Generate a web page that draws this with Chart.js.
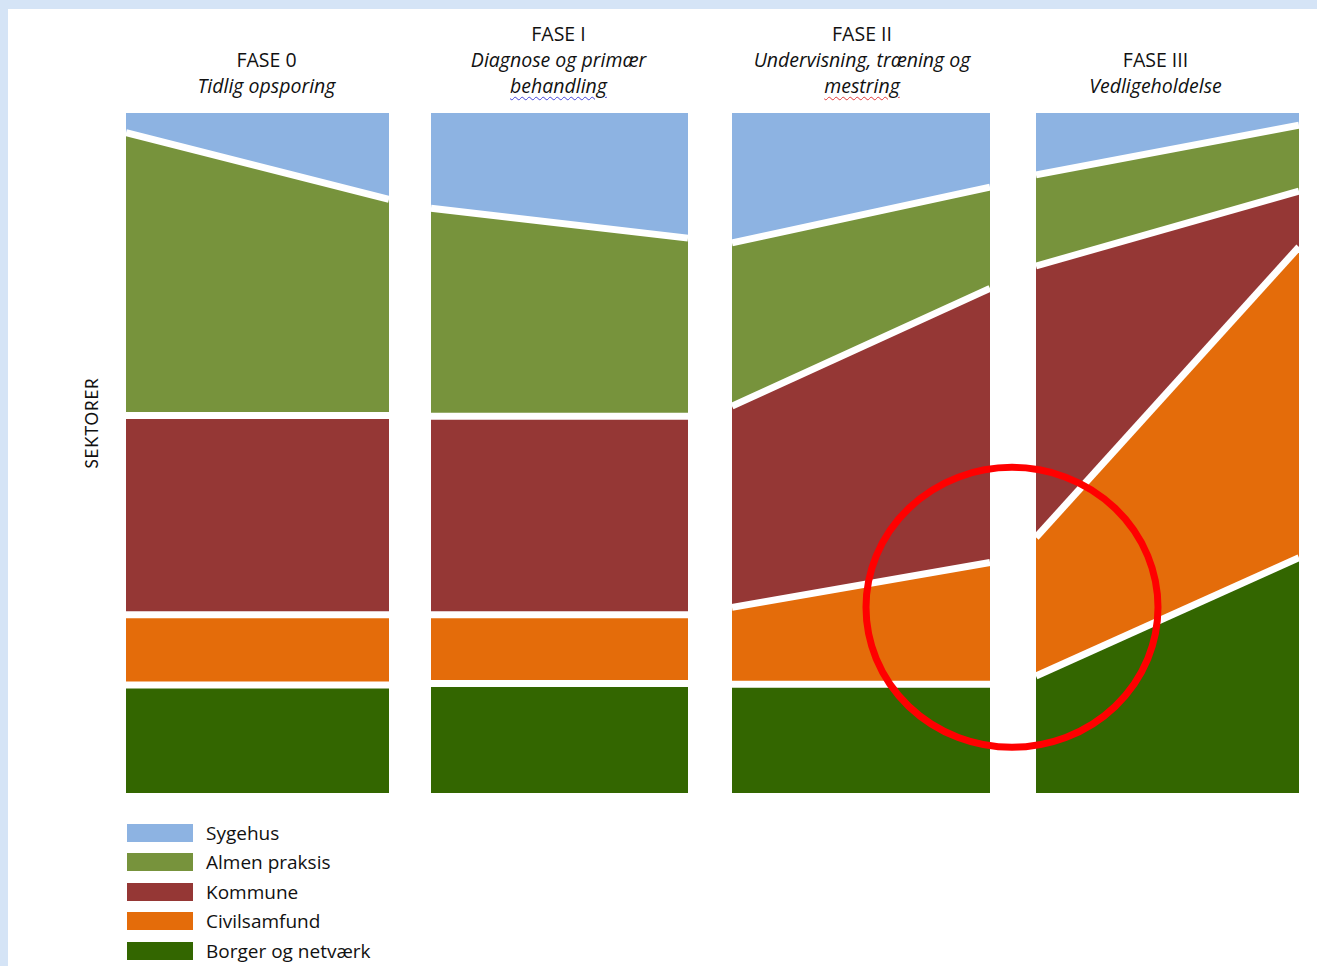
<!DOCTYPE html>
<html>
<head>
<meta charset="utf-8">
<title>Sektorer pr. fase</title>
<script src="https://cdn.jsdelivr.net/npm/chart.js@4.4.1/dist/chart.umd.min.js"></script>
<style>
  html, body { margin: 0; padding: 0; }
  body { width: 1317px; height: 966px; overflow: hidden; background: #d5e4f6; font-family: 'Open Sans', Lato, sans-serif; color: #111; }
  #page { position: absolute; left: 8px; top: 9px; right: 0; bottom: 0; background: #fff; }
  #chartBox { position: absolute; left: 126px; top: 113px; width: 1173px; height: 680px; }
  .phase { position: absolute; bottom: 867px; transform: translateX(-50%); text-align: center; font-size: 19.5px; line-height: 26px; white-space: nowrap; }
  .phase i { display: block; }
  .spell { text-decoration: underline wavy; text-decoration-thickness: 1px; text-underline-offset: 3px; }
  #ylabel { position: absolute; left: 91px; top: 423px; transform: translate(-50%, -50%) rotate(-90deg); font-family: Lato, sans-serif; font-size: 17px; letter-spacing: 0.8px; white-space: nowrap; }
  #legend { position: absolute; left: 127px; top: 818px; }
  .item { display: flex; align-items: center; height: 29.5px; font-size: 19px; }
  .swatch { width: 66px; height: 18px; margin-right: 13px; }
</style>
</head>
<body>
<div id="page"></div>
<div id="ylabel">SEKTORER</div>
<div id="chartBox"><canvas id="sectorChart" width="1173" height="680"></canvas></div>
<div id="legend"></div>
<script>
// phases (panels) and their headings
const phases = ['FASE 0', 'FASE I', 'FASE II', 'FASE III'];
const phaseTexts = [
  ['Tidlig opsporing'],
  ['Diagnose og primær', 'behandling'],
  ['Undervisning, træning og', 'mestring'],
  ['Vedligeholdelse']
];
const sectors = ['Sygehus', 'Almen praksis', 'Kommune', 'Civilsamfund', 'Borger og netværk'];

// share in % at start and end of each phase: [start0, end0, start1, end1, ...]
const sygehus      = [2.9, 12.7, 14.0, 18.4, 19.1, 10.9,  9.1,  1.8];
const almenPraksis = [41.6, 31.8, 30.6, 26.2, 24.0, 14.9, 13.4,  9.7];
const kommune      = [29.3, 29.3, 29.2, 29.2, 29.6, 40.3, 39.9,  8.2];
const civilsamfund = [10.3, 10.3, 10.1, 10.1, 11.3, 17.9, 20.4, 45.7];
const borger       = [15.9, 15.9, 16.1, 16.1, 16.0, 16.0, 17.2, 34.6];

const sectorColors = ['#8db3e2', '#77933c', '#953735', '#e46c0a', '#336600'];
const spellColors = { behandling: '#4444d8', mestring: '#e03a3a' };

// panel extents along the x scale (layout only)
const panelStart = [0, 305, 606, 910];
const panelEnd   = [263, 562, 864, 1173];
const series = [sygehus, almenPraksis, kommune, civilsamfund, borger];

const datasets = [];
phases.forEach((ph, p) => {
  // bottom band first so fill '-1' points at the band below
  for (let s = series.length - 1; s >= 0; s--) {
    datasets.push({
      label: sectors[s],
      data: [{ x: panelStart[p], y: series[s][2 * p] }, { x: panelEnd[p], y: series[s][2 * p + 1] }],
      backgroundColor: sectorColors[s],
      borderColor: s === 0 ? 'rgba(255,255,255,0)' : '#ffffff',
      borderWidth: 7,
      fill: s === series.length - 1 ? 'origin' : '-1',
      pointRadius: 0,
      pointHoverRadius: 0,
      tension: 0
    });
  }
});

// red ring round the shift from phase II to phase III
const ringPlugin = {
  id: 'ring',
  afterDatasetsDraw(chart) {
    const { ctx, scales: { x, y } } = chart;
    const cx = x.getPixelForValue((panelEnd[2] + panelStart[3]) / 2) - 1;
    ctx.save();
    ctx.strokeStyle = '#ff0000';
    ctx.lineWidth = 7;
    ctx.beginPath();
    ctx.ellipse(cx, y.getPixelForValue(27.3), 146, 140, 0, 0, Math.PI * 2);
    ctx.stroke();
    ctx.restore();
  }
};

const chart = new Chart(document.getElementById('sectorChart').getContext('2d'), {
  type: 'line',
  data: { datasets },
  options: {
    responsive: false,
    animation: false,
    layout: { padding: 0 },
    plugins: { legend: { display: false }, tooltip: { enabled: false } },
    scales: {
      x: { type: 'linear', min: 0, max: panelEnd[panelEnd.length - 1], display: false },
      y: { stacked: true, min: 0, max: 100, display: false }
    }
  },
  plugins: [ringPlugin]
});

// phase headings placed over each panel
const box = document.getElementById('chartBox');
const nudge = [9, -1, 1, -12];
phases.forEach((ph, p) => {
  const div = document.createElement('div');
  div.className = 'phase';
  let html = ph + '<i>';
  html += phaseTexts[p].map(t => spellColors[t]
    ? '<span class="spell" style="text-decoration-color:' + spellColors[t] + '">' + t + '</span>'
    : t).join('<br>');
  div.innerHTML = html + '</i>';
  const mid = (panelStart[p] + panelEnd[p]) / 2;
  div.style.left = (box.offsetLeft + chart.scales.x.getPixelForValue(mid) + nudge[p]) + 'px';
  document.body.appendChild(div);
});

// legend, top band first
const legend = document.getElementById('legend');
sectors.forEach((name, i) => {
  const row = document.createElement('div');
  row.className = 'item';
  row.innerHTML = '<span class="swatch" style="background:' + sectorColors[i] + '"></span><span>' + name + '</span>';
  legend.appendChild(row);
});
</script>
</body>
</html>
